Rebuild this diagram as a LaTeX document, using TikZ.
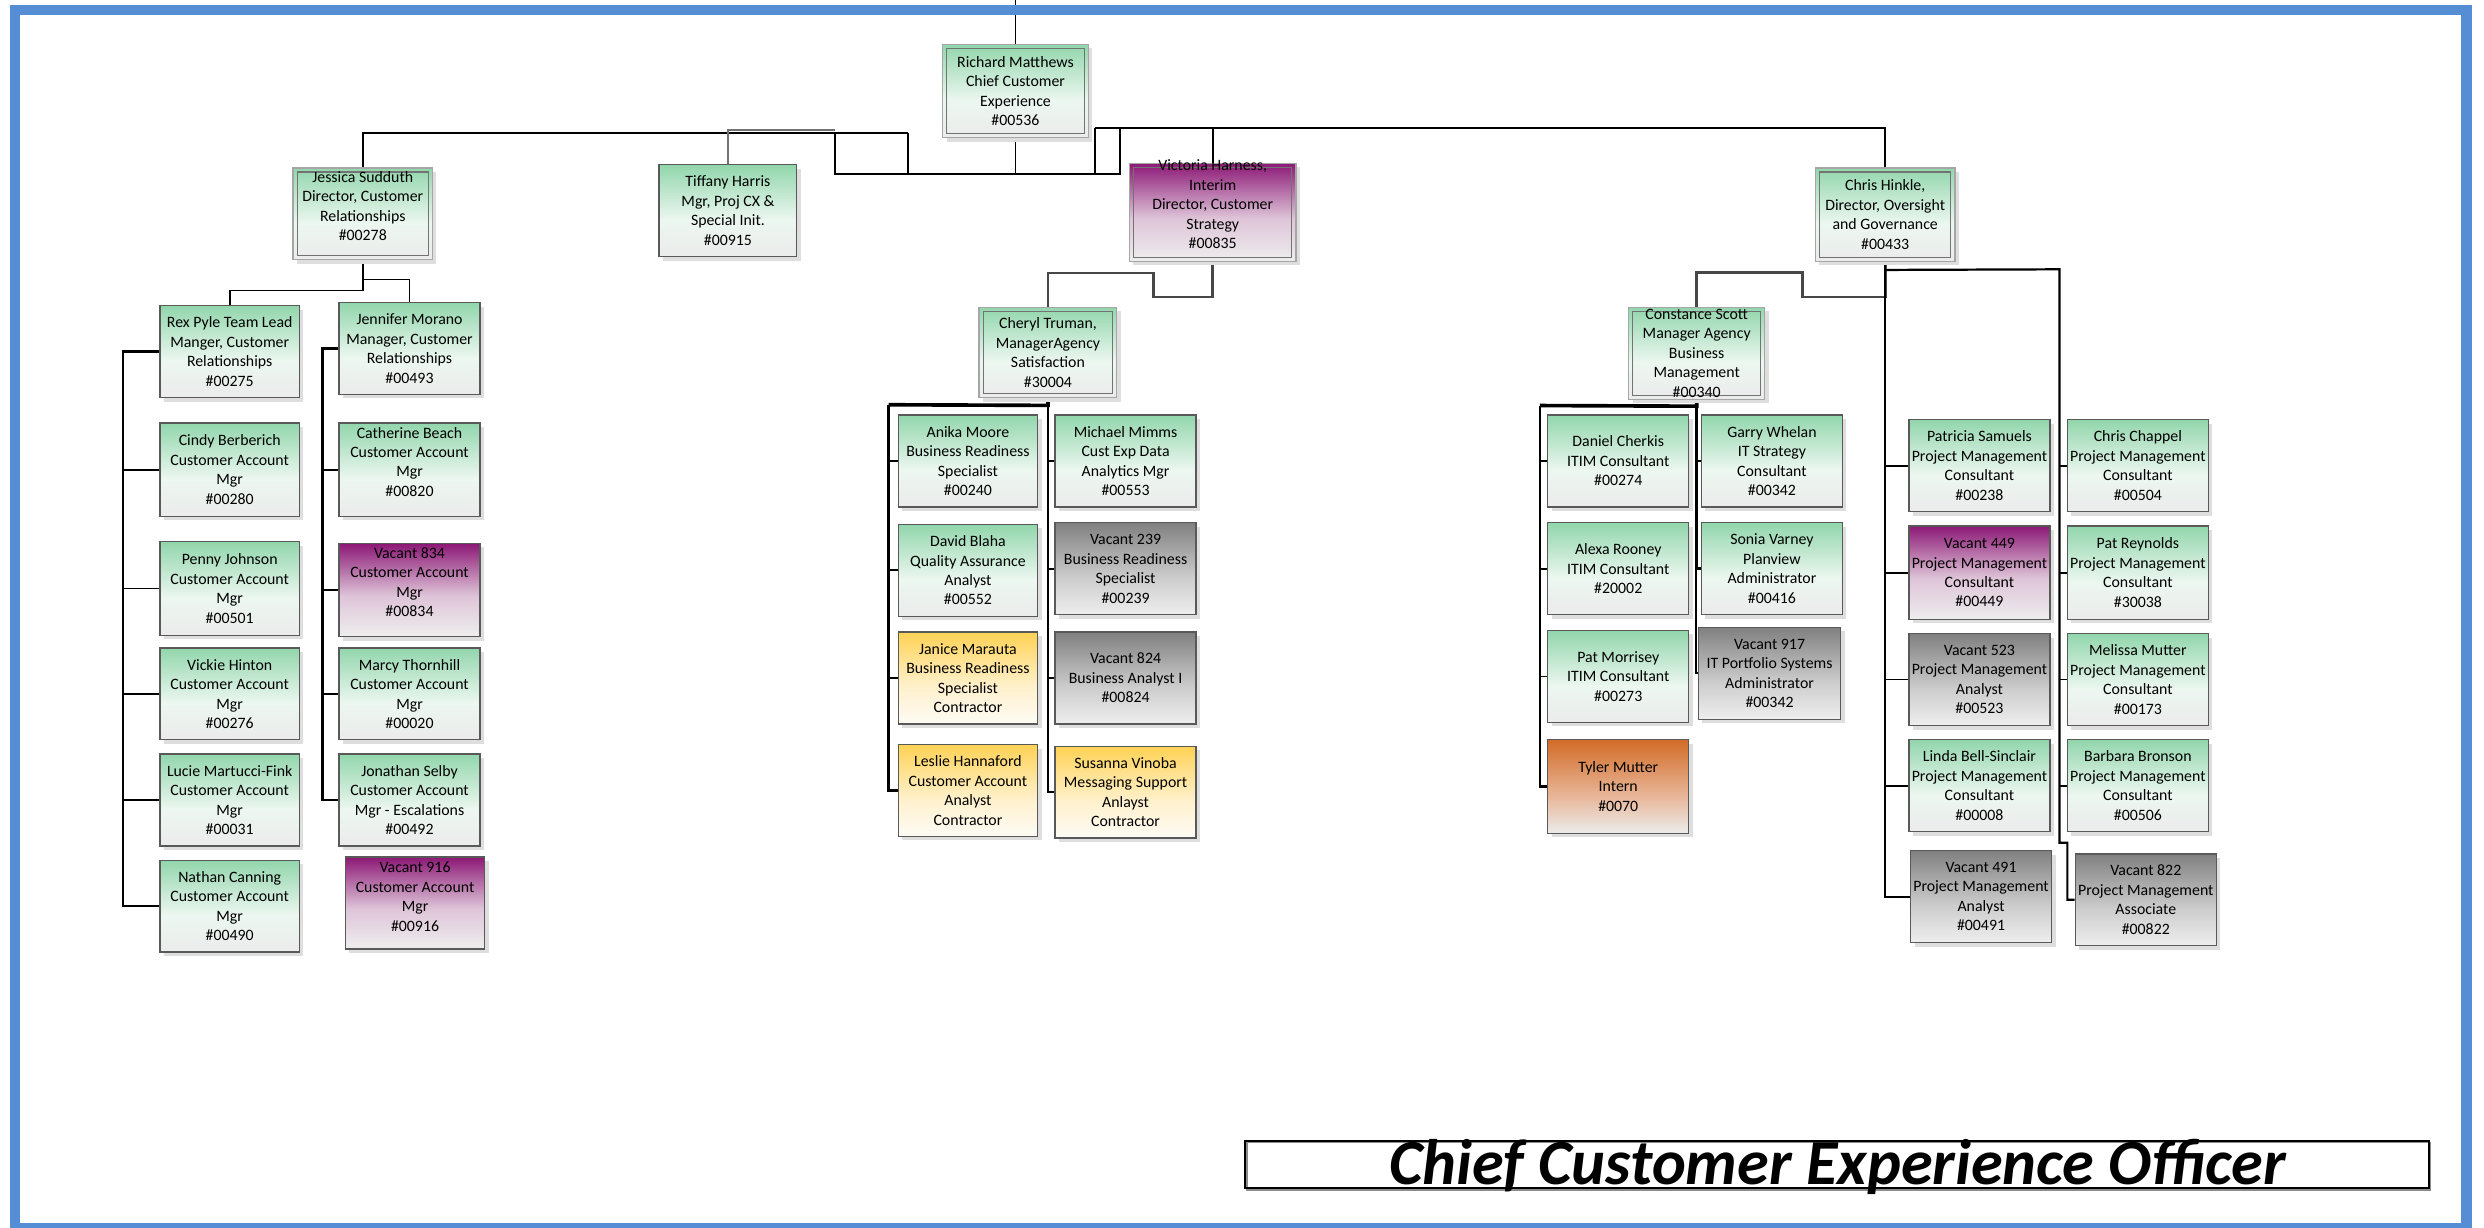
\documentclass[tikz,border=0pt]{standalone}
\usepackage{fontspec}
\setmainfont{Carlito}
\usetikzlibrary{shadows}
\pgfdeclarelayer{bg}
\pgfsetlayers{bg,main}

\definecolor{gTop}{RGB}{146,214,172}
\definecolor{gMid}{RGB}{236,247,240}
\definecolor{gBot}{RGB}{235,235,235}
\definecolor{pTop}{RGB}{140,24,118}
\definecolor{pMid}{RGB}{222,196,216}
\definecolor{pBot}{RGB}{238,238,238}
\definecolor{kTop}{RGB}{128,128,128}
\definecolor{kMid}{RGB}{205,205,205}
\definecolor{kBot}{RGB}{238,238,238}
\definecolor{yTop}{RGB}{255,210,85}
\definecolor{yMid}{RGB}{255,241,205}
\definecolor{yBot}{RGB}{253,251,245}
\definecolor{oTop}{RGB}{210,108,40}
\definecolor{oMid}{RGB}{232,182,152}
\definecolor{oBot}{RGB}{236,236,236}
\definecolor{frameblue}{RGB}{85,142,213}

\pgfdeclareverticalshading{gsh}{100bp}{color(0bp)=(gBot); color(25bp)=(gBot); color(45bp)=(gMid); color(75bp)=(gTop); color(100bp)=(gTop)}
\pgfdeclareverticalshading{psh}{100bp}{color(0bp)=(pBot); color(25bp)=(pBot); color(47bp)=(pMid); color(75bp)=(pTop); color(100bp)=(pTop)}
\pgfdeclareverticalshading{ksh}{100bp}{color(0bp)=(kBot); color(25bp)=(kBot); color(45bp)=(kMid); color(75bp)=(kTop); color(100bp)=(kTop)}
\pgfdeclareverticalshading{ysh}{100bp}{color(0bp)=(yBot); color(25bp)=(yBot); color(45bp)=(yMid); color(75bp)=(yTop); color(100bp)=(yTop)}
\pgfdeclareverticalshading{osh}{100bp}{color(0bp)=(oBot); color(25bp)=(oBot); color(45bp)=(oMid); color(75bp)=(oTop); color(100bp)=(oTop)}

\tikzset{
  bx/.style={rectangle, draw=black!65, line width=0.8pt, inner sep=0pt,
    general shadow={fill=black!13, shadow xshift=2.5pt, shadow yshift=-2.5pt}},
  dbx/.style={bx, draw=black!35},
  green/.style={shading=gsh},
  purple/.style={shading=psh},
  grey/.style={shading=ksh},
  yellow/.style={shading=ysh},
  orange/.style={shading=osh},
  boxtext/.style={align=center, font=\fontsize{10}{12.3}\selectfont, inner sep=0pt, text=black},
  innerline/.style={draw=black!55, line width=0.7pt},
  conn/.style={draw=black, line width=1.1pt},
  gconn/.style={draw=black!72, line width=1.7pt},
  bus/.style={draw=black, line width=2.3pt},
}

% \obox[text options]{name}{style}{x1}{y1}{x2}{y2}{text}
\newcommand\obox[8][]{%
  \node[bx,#3, minimum width={(#6-#4)*1pt}, minimum height={(#7-#5)*1pt}] (#2) at ({(#4+#6)/2},{(#5+#7)/2}) {};
  \node[boxtext,#1] (#2-t) at (#2.center) {#8};
}
\newcommand\dbox[8][]{%
  \node[dbx,#3, minimum width={(#6-#4)*1pt}, minimum height={(#7-#5)*1pt}] (#2) at ({(#4+#6)/2},{(#5+#7)/2}) {};
  \draw[innerline] ([shift={(3,3)}]#2.north west) rectangle ([shift={(-3,-3)}]#2.south east);
  \node[boxtext,#1] (#2-t) at (#2.center) {#8};
}

\begin{document}
\begin{tikzpicture}[x=1pt, y=-1pt]
\useasboundingbox (0,0) rectangle (1568,775);

% ---- top level
\dbox{rich}{green}{595}{28}{687}{87}{Richard Matthews\\Chief Customer\\Experience\\\#00536}
\dbox[yshift=5pt]{jess}{green}{185}{106}{273}{164}{Jessica Sudduth\\Director, Customer\\Relationships\\\#00278}
\obox{tiff}{green}{416}{104}{503}{162}{Tiffany Harris\\Mgr, Proj CX \&\\Special Init.\\\#00915}
\dbox[yshift=5pt]{vic}{purple}{713}{103}{818}{165}{Victoria Harness,\\Interim\\Director, Customer\\Strategy\\\#00835}
\dbox{hink}{green}{1146}{106}{1234}{165}{Chris Hinkle,\\Director, Oversight\\and Governance\\\#00433}

% ---- Jessica's group
\obox{rex}{green}{101}{193}{189}{251}{Rex Pyle Team Lead\\Manger, Customer\\Relationships\\\#00275}
\obox{cindy}{green}{101}{267}{189}{326}{Cindy Berberich\\Customer Account\\Mgr\\\#00280}
\obox{penny}{green}{101}{342}{189}{401}{Penny Johnson\\Customer Account\\Mgr\\\#00501}
\obox{vickie}{green}{101}{409}{189}{467}{Vickie Hinton\\Customer Account\\Mgr\\\#00276}
\obox{lucie}{green}{101}{476}{189}{534}{Lucie Martucci-Fink\\Customer Account\\Mgr\\\#00031}
\obox{nathan}{green}{101}{543}{189}{601}{Nathan Canning\\Customer Account\\Mgr\\\#00490}
\obox{jen}{green}{214}{191}{303}{249}{Jennifer Morano\\Manager, Customer\\Relationships\\\#00493}
\obox[yshift=5pt]{cath}{green}{214}{267}{303}{326}{Catherine Beach\\Customer Account\\Mgr\\\#00820}
\obox[yshift=5pt]{v834}{purple}{214}{343}{303}{402}{Vacant 834\\Customer Account\\Mgr\\\#00834}
\obox{marcy}{green}{214}{409}{303}{467}{Marcy Thornhill\\Customer Account\\Mgr\\\#00020}
\obox{jon}{green}{214}{476}{303}{534}{Jonathan Selby\\Customer Account\\Mgr - Escalations\\\#00492}
\obox[yshift=4pt]{v916}{purple}{218}{541}{306}{599}{Vacant 916\\Customer Account\\Mgr\\\#00916}

% ---- Cheryl's group
\dbox{cheryl}{green}{618}{194}{705}{251}{Cheryl Truman,\\ManagerAgency\\Satisfaction\\\#30004}
\obox{anika}{green}{567}{262}{655}{320}{Anika Moore\\Business Readiness\\Specialist\\\#00240}
\obox{david}{green}{567}{331}{655}{389}{David Blaha\\Quality Assurance\\Analyst\\\#00552}
\obox{janice}{yellow}{567}{399}{655}{457}{Janice Marauta\\Business Readiness\\Specialist\\Contractor}
\obox{leslie}{yellow}{567}{470}{655}{528}{Leslie Hannaford\\Customer Account\\Analyst\\Contractor}
\obox{michael}{green}{666}{262}{755}{320}{Michael Mimms\\Cust Exp Data\\Analytics Mgr\\\#00553}
\obox{v239}{grey}{666}{330}{755}{388}{Vacant 239\\Business Readiness\\Specialist\\\#00239}
\obox{v824}{grey}{666}{399}{755}{457}{Vacant 824\\Business Analyst I\\\#00824}
\obox{susanna}{yellow}{666}{471}{755}{529}{Susanna Vinoba\\Messaging Support\\Anlayst\\Contractor}

% ---- Constance's group
\dbox{const}{green}{1028}{194}{1114}{252}{Constance Scott\\Manager Agency\\Business\\Management\\\#00340}
\obox{daniel}{green}{977}{262}{1066}{320}{Daniel Cherkis\\ITIM Consultant\\\#00274}
\obox{alexa}{green}{977}{330}{1066}{388}{Alexa Rooney\\ITIM Consultant\\\#20002}
\obox{patm}{green}{977}{398}{1066}{456}{Pat Morrisey\\ITIM Consultant\\\#00273}
\obox{tyler}{orange}{977}{467}{1066}{526}{Tyler Mutter\\Intern\\\#0070}
\obox{garry}{green}{1074}{262}{1163}{320}{Garry Whelan\\IT Strategy\\Consultant\\\#00342}
\obox{sonia}{green}{1074}{330}{1163}{388}{Sonia Varney\\Planview\\Administrator\\\#00416}
\obox{v917}{grey}{1072}{396}{1162}{454}{Vacant 917\\IT Portfolio Systems\\Administrator\\\#00342}

% ---- Project management group
\obox{patricia}{green}{1205}{265}{1294}{323}{Patricia Samuels\\Project Management\\Consultant\\\#00238}
\obox{v449}{purple}{1205}{332}{1294}{391}{Vacant 449\\Project Management\\Consultant\\\#00449}
\obox{v523}{grey}{1205}{400}{1294}{458}{Vacant 523\\Project Management\\Analyst\\\#00523}
\obox{linda}{green}{1205}{467}{1294}{525}{Linda Bell-Sinclair\\Project Management\\Consultant\\\#00008}
\obox{v491}{grey}{1206}{537}{1295}{595}{Vacant 491\\Project Management\\Analyst\\\#00491}
\obox{chappel}{green}{1305}{265}{1394}{323}{Chris Chappel\\Project Management\\Consultant\\\#00504}
\obox{patr}{green}{1305}{332}{1394}{391}{Pat Reynolds\\Project Management\\Consultant\\\#30038}
\obox{melissa}{green}{1305}{400}{1394}{458}{Melissa Mutter\\Project Management\\Consultant\\\#00173}
\obox{barbara}{green}{1305}{467}{1394}{525}{Barbara Bronson\\Project Management\\Consultant\\\#00506}
\obox{v822}{grey}{1310}{539}{1399}{597}{Vacant 822\\Project Management\\Associate\\\#00822}

% ---- title
\node[draw=black, line width=1.3pt, minimum width=747pt, minimum height=30pt, inner sep=0pt,
  general shadow={draw=black!45, line width=0.8pt, shadow xshift=1.2pt, shadow yshift=-1.2pt}] (titlebox) at (1159.5,735) {};
\node[anchor=base, inner sep=0pt, font=\fontsize{40.6}{41}\selectfont\bfseries\itshape] (title) at (1160,748) {Chief Customer Experience Officer};

% ---- connectors
\coordinate (topend) at (641,0);
\coordinate (busL) at (527,110);
\coordinate (busR) at (707,110);
\coordinate (busJ) at (573,84);
\coordinate (busK) at (527,84);
\coordinate (busT) at (527,82);
\coordinate (busU) at (691,80.6);
\coordinate (busV) at (707,80.6);
\coordinate (busW) at (691,110);
\coordinate (busX) at (573,110);
\coordinate (chL) at (561,255.5);
\coordinate (coL) at (972,256);
\coordinate (pmR) at (1300,170);
\coordinate (pmJ) at (1300,532);
\coordinate (pmK) at (1305,532);

\begin{pgfonlayer}{bg}
\draw[conn] (topend) -- (rich.north);
\draw[conn] (rich.south) -- (rich.south |- busL);
\draw[conn] (busK) -- (busL) -- (busR) -- (busV);
\draw[conn] (busJ) -- (busX);
\draw[conn] (busU) -- (busW);
\draw[conn] (jess.north) |- (busJ);
\draw[conn, draw=black!55, line width=1.3pt] (tiff.north) |- (busT);
\draw[conn] (busU) -| (hink.north);
\draw[conn] (vic.north) -- (vic.north |- busU);

% Jessica
\draw[conn] (jess.south) -- ++(0,19) -| (rex.north);
\draw[conn] (jess.south) ++(0,12) -| (jen.north);
\draw[conn, line width=1.5pt] (rex.west) -- ++(-23,0) |- (nathan.west);
\foreach \n in {cindy,penny,vickie,lucie} \draw[conn] (\n.west) -- ++(-23,0);
\draw[conn, line width=1.5pt] (jen.west) -- ++(-10,0) |- (jon.west);
\foreach \n in {cath,v834,marcy} \draw[conn] (\n.west) -- ++(-10,0);

% Victoria -> Cheryl
\draw[gconn] (vic.south) -- ++(0,22) -- ++(-37.5,0) -- ++(0,-15) -| (cheryl.north);
\draw[bus] (cheryl.south) -- ++(0,4.5) -- (chL);
\draw[conn, line width=1.6pt] (chL) |- (leslie.west);
\draw[conn] (cheryl.south) |- (susanna.west);
\foreach \n in {anika,david,janice} \draw[conn] (\n.west) -- ++(-6,0);
\foreach \n in {michael,v239,v824} \draw[conn] (\n.west) -- ++(-4.5,0);

% Chris -> Constance
\draw[gconn] (hink.south) -- ++(0,22) -- ++(-52,0) -- ++(0,-15.5) -| (const.north);
\draw[bus] (const.south) -- ++(0,4) -- (coL);
\draw[conn, line width=1.6pt] (coL) |- (tyler.west);
\foreach \n in {daniel,alexa,patm} \draw[conn] (\n.west) -- ++(-5,0);
\draw[conn, line width=1.8pt] (const.south) |- (sonia.west);
\draw[conn] (sonia.west) ++(-3,0) |- (v917.west);
\draw[conn] (garry.west) -- ++(-3,0);

% Chris -> project management
\draw[conn, line width=1.4pt] (hink.south) |- (v491.west);
\foreach \n in {patricia,v449,v523,linda} \draw[conn] (\n.west) -- ++(-15,0);
\draw[conn, line width=1.4pt] (hink.south) ++(0,5) -- (pmR) -- (pmJ) -- (pmK) |- (v822.west);
\foreach \n in {chappel,patr,melissa,barbara} \draw[conn] (\n.west) -- ++(-5,0);
\end{pgfonlayer}

% ---- frame
\draw[draw=frameblue, line width=6.5pt] (9.3,6.3) rectangle (1557,775.5);
\end{tikzpicture}
\end{document}
